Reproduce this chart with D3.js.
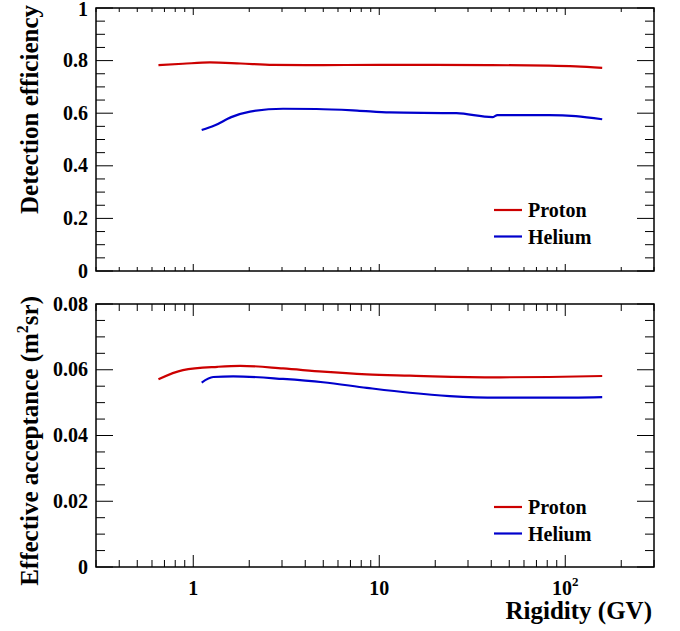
<!DOCTYPE html>
<html>
<head>
<meta charset="utf-8">
<script src="https://cdn.jsdelivr.net/npm/d3@7"></script>
<style>
  body { margin: 0; background: #fff; }
  svg text { font-family: 'Liberation Serif', 'Times New Roman', serif; font-weight: 700; fill: #000; }
</style>
</head>
<body>
<svg id="chart" width="680" height="631"></svg>
<script>
// Rigidity (GV) sample points
let protonEffR = [0.65, 0.88, 1.23, 1.8, 2.69, 5, 10, 20, 40, 82, 114, 158];
let protonEff  = [0.783, 0.788, 0.793, 0.789, 0.784, 0.783, 0.784, 0.784, 0.783, 0.781, 0.778, 0.772];
let heliumEffR = [1.11, 1.3, 1.6, 2.02, 3.04, 4.6, 7.6, 11.4, 26, 40.6, 43.2, 82, 114, 158];
let heliumEff  = [0.536, 0.553, 0.585, 0.606, 0.617, 0.616, 0.610, 0.603, 0.600, 0.585, 0.593, 0.593, 0.589, 0.577];

let protonAccR = [0.65, 0.88, 1.35, 1.79, 3.04, 4.98, 8.57, 14.6, 19.4, 44, 82, 158];
let protonAcc  = [0.0571, 0.0599, 0.0609, 0.0612, 0.0604, 0.0594, 0.0586, 0.0582, 0.0580, 0.0577, 0.0578, 0.0581];
let heliumAccR = [1.11, 1.28, 1.64, 3.04, 4.98, 8.57, 14.6, 23.9, 44, 82, 158];
let heliumAcc  = [0.0561, 0.0578, 0.0580, 0.0572, 0.0562, 0.0545, 0.0530, 0.0520, 0.0515, 0.0515, 0.0517];

let legendNames = ['Proton', 'Helium'];
let colors = ['#cc0000', '#0000cc'];

let svg = d3.select('#chart');
let left = 96, right = 654;

let x = d3.scaleLog().domain([0.3, 300]).range([left, right]);

//Minor x ticks: every integer multiple within each decade.
let xMinor = [];
[0.1, 1, 10, 100].forEach(dec => {
  for (let k = 2; k <= 9; k++) {
    let v = dec * k;
    if (v >= 0.3 && v <= 300) xMinor.push(v);
  }
});
let xMajor = [1, 10, 100];

//Draws one panel: frame, ticks on all four sides, curves and legend.
function panel(top, bottom, yMax, yMajorStep, yFmt, series, yTitle, titleEnd, legendY, xMajLen, xMinLen) {
  let y = d3.scaleLinear().domain([0, yMax]).range([bottom, top]);
  let g = svg.append('g');

  let yMajor = d3.range(0, yMax + yMajorStep / 2, yMajorStep);
  let yMinor = d3.range(0, yMax + yMajorStep / 8, yMajorStep / 4);

  //y ticks, left and right
  yMinor.forEach(v => {
    let isMajor = yMajor.some(m => Math.abs(m - v) < 1e-9);
    let len = isMajor ? 17 : 9;
    g.append('line').attr('x1', left).attr('x2', left + len).attr('y1', y(v)).attr('y2', y(v))
      .attr('stroke', '#000').attr('stroke-width', 1);
    g.append('line').attr('x1', right).attr('x2', right - len).attr('y1', y(v)).attr('y2', y(v))
      .attr('stroke', '#000').attr('stroke-width', 1);
  });
  yMajor.forEach(v => {
    //keep the topmost label inside the picture
    let ty = Math.max(y(v) + 6.5, 16);
    g.append('text').attr('x', 88).attr('y', ty).attr('text-anchor', 'end')
      .style('font-size', '20px').text(yFmt(v));
  });

  //x ticks, bottom and top
  xMinor.concat(xMajor).forEach(v => {
    let len = xMajor.includes(v) ? xMajLen : xMinLen;
    g.append('line').attr('x1', x(v)).attr('x2', x(v)).attr('y1', bottom).attr('y2', bottom - len)
      .attr('stroke', '#000').attr('stroke-width', 1);
    g.append('line').attr('x1', x(v)).attr('x2', x(v)).attr('y1', top).attr('y2', top + len)
      .attr('stroke', '#000').attr('stroke-width', 1);
  });

  g.append('rect').attr('x', left).attr('y', top).attr('width', right - left).attr('height', bottom - top)
    .attr('fill', 'none').attr('stroke', '#000').attr('stroke-width', 1.5);

  let line = d3.line().x(d => x(d[0])).y(d => y(d[1])).curve(d3.curveMonotoneX);
  series.forEach((s, i) => {
    g.append('path').attr('d', line(d3.zip(s[0], s[1])))
      .attr('fill', 'none').attr('stroke', colors[i]).attr('stroke-width', 2.2);
  });

  //Legend
  legendNames.forEach((name, i) => {
    let ly = legendY + i * 26.5;
    g.append('line').attr('x1', 494).attr('x2', 522).attr('y1', ly).attr('y2', ly)
      .attr('stroke', colors[i]).attr('stroke-width', 2.2);
    g.append('text').attr('x', 528).attr('y', ly + 7).style('font-size', '20px').text(name);
  });

  //y title, right-aligned at the top of the axis
  let t = g.append('text').attr('transform', 'translate(38,' + titleEnd + ')rotate(-90)')
    .attr('text-anchor', 'end').style('font-size', '25px');
  yTitle(t);
  return y;
}

panel(8, 271, 1, 0.2, d => d3.format('~g')(d), [[protonEffR, protonEff], [heliumEffR, heliumEff]],
  t => t.text('Detection efficiency'), 5, 210, 7, 4);

panel(304, 567, 0.08, 0.02, d => d === 0 ? '0' : d3.format('.2f')(d), [[protonAccR, protonAcc], [heliumAccR, heliumAcc]],
  t => {
    t.append('tspan').text('Effective acceptance (m');
    t.append('tspan').text('2').style('font-size', '16px').attr('dy', -10);
    t.append('tspan').text('sr)').attr('dy', 10);
  }, 296, 507, 12, 7);

//x tick labels under the bottom panel
svg.append('text').attr('x', x(1)).attr('y', 595).attr('text-anchor', 'middle').style('font-size', '20px').text('1');
svg.append('text').attr('x', x(10)).attr('y', 595).attr('text-anchor', 'middle').style('font-size', '20px').text('10');
let hundred = svg.append('text').attr('x', x(100)).attr('y', 595).attr('text-anchor', 'middle').style('font-size', '20px');
hundred.append('tspan').text('10');
hundred.append('tspan').text('2').style('font-size', '13px').attr('dy', -9);

svg.append('text').attr('x', 652).attr('y', 619).attr('text-anchor', 'end').style('font-size', '25px').text('Rigidity (GV)');
</script>
</body>
</html>
